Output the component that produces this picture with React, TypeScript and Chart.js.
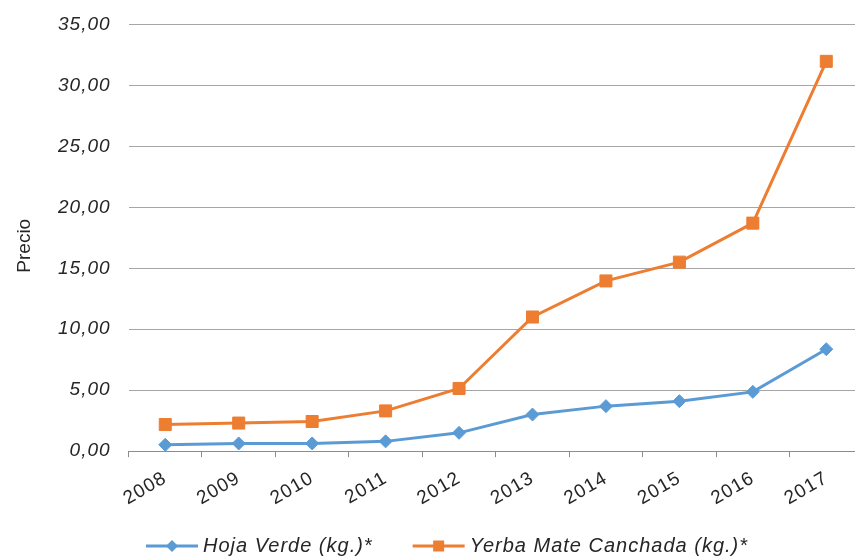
import React, { useEffect, useRef } from 'react';
import { Chart, registerables } from 'chart.js';

Chart.register(...registerables);

const years = ['2008', '2009', '2010', '2011', '2012', '2013', '2014', '2015', '2016', '2017'];
const hojaVerde = [0.52, 0.63, 0.63, 0.8, 1.5, 3.0, 3.69, 4.1, 4.86, 8.36];
const yerbaMate = [2.18, 2.3, 2.43, 3.3, 5.14, 11.0, 13.96, 15.5, 18.7, 31.97];
const seriesNames = ['Hoja Verde (kg.)*', 'Yerba Mate Canchada (kg.)*'];
const yAxisTitle = 'Precio';

const BLUE = '#5B9BD5';
const ORANGE = '#ED7D31';
const TEXT = '#262626';
const FONT_FAMILY = '"Liberation Sans", Arial, Helvetica, sans-serif';

const spacingPlugin = {
  id: 'letterSpacing',
  beforeUpdate(chart: any) {
    (chart.ctx as any).letterSpacing = '1px';
  },
  beforeDraw(chart: any) {
    (chart.ctx as any).letterSpacing = '1px';
  },
};

const yTitlePlugin = {
  id: 'yTitle',
  afterDraw(chart: any) {
    const ctx = chart.ctx as CanvasRenderingContext2D;
    ctx.save();
    (ctx as any).letterSpacing = '0px';
    ctx.font = `19px ${FONT_FAMILY}`;
    ctx.fillStyle = TEXT;
    ctx.textAlign = 'center';
    ctx.textBaseline = 'middle';
    const cy = (chart.chartArea.top + chart.chartArea.bottom) / 2 + 8;
    ctx.translate(25, cy);
    ctx.rotate(-Math.PI / 2);
    ctx.fillText(yAxisTitle, 0, 0);
    ctx.restore();
  },
};

const legendPlugin = {
  id: 'lineLegend',
  afterDraw(chart: any) {
    const ctx = chart.ctx as CanvasRenderingContext2D;
    ctx.save();
    (ctx as any).letterSpacing = '1px';
    ctx.font = `italic 20px ${FONT_FAMILY}`;
    const lineW = 52;
    const gapText = 5;
    const gapItems = 40;
    const items = chart.data.datasets.map((ds: any) => ({
      ds,
      w: lineW + gapText + ctx.measureText(ds.label).width,
    }));
    const total = items.reduce((s: number, it: any) => s + it.w, 0) + gapItems * (items.length - 1);
    let x = 447 - total / 2;
    const y = chart.height - 11;
    for (const it of items) {
      const color = it.ds.borderColor;
      ctx.strokeStyle = color;
      ctx.lineWidth = 3;
      ctx.beginPath();
      ctx.moveTo(x, y);
      ctx.lineTo(x + lineW, y);
      ctx.stroke();
      const cx = x + lineW / 2;
      ctx.fillStyle = color;
      ctx.beginPath();
      if (it.ds.pointStyle === 'rectRot') {
        const r = 6;
        ctx.moveTo(cx - r, y);
        ctx.lineTo(cx, y - r);
        ctx.lineTo(cx + r, y);
        ctx.lineTo(cx, y + r);
        ctx.closePath();
      } else {
        const h = 5.5;
        ctx.rect(cx - h, y - h, 2 * h, 2 * h);
      }
      ctx.fill();
      ctx.fillStyle = TEXT;
      ctx.textAlign = 'left';
      ctx.textBaseline = 'middle';
      ctx.fillText(it.ds.label, x + lineW + gapText, y);
      x += it.w + gapItems;
    }
    ctx.restore();
  },
};

export default function App() {
  const canvasRef = useRef<HTMLCanvasElement | null>(null);

  useEffect(() => {
    document.body.style.margin = '0';
    const canvas = canvasRef.current;
    if (!canvas) return;
    const chart = new Chart(canvas, {
      type: 'line',
      data: {
        labels: years,
        datasets: [
          {
            label: seriesNames[0],
            data: hojaVerde,
            borderColor: BLUE,
            backgroundColor: BLUE,
            borderWidth: 3,
            pointStyle: 'rectRot',
            pointRadius: 6.5,
            pointBorderWidth: 1,
            tension: 0,
          },
          {
            label: seriesNames[1],
            data: yerbaMate,
            borderColor: ORANGE,
            backgroundColor: ORANGE,
            borderWidth: 3,
            pointStyle: 'rect',
            pointRadius: 8.5,
            pointBorderWidth: 1,
            tension: 0,
          },
        ],
      },
      options: {
        responsive: false,
        animation: false,
        devicePixelRatio: 1,
        layout: { padding: { top: 8, left: 40, right: 29, bottom: 37 } },
        plugins: {
          legend: { display: false },
          tooltip: { enabled: false },
        },
        scales: {
          x: {
            offset: true,
            grid: {
              offset: true,
              drawOnChartArea: false,
              drawTicks: true,
              tickLength: 6,
              color: '#8C8C8C',
            },
            border: { display: true, color: '#8C8C8C', width: 1 },
            ticks: {
              color: TEXT,
              font: { family: FONT_FAMILY, size: 19 },
              maxRotation: 30,
              minRotation: 30,
              padding: 10,
            },
          },
          y: {
            min: 0,
            max: 35,
            ticks: {
              stepSize: 5,
              color: TEXT,
              padding: 18,
              font: { family: FONT_FAMILY, size: 19, style: 'italic' },
              callback: (v: any) => Number(v).toFixed(2).replace('.', ','),
            },
            grid: { color: '#A6A6A6', lineWidth: 1, drawTicks: false },
            border: { display: false },
          },
        },
      },
      plugins: [spacingPlugin, yTitlePlugin, legendPlugin],
    });
    return () => chart.destroy();
  }, []);

  return (
    <div style={{ width: 855, height: 557, overflow: 'hidden', position: 'relative', background: '#fff' }}>
      <canvas
        ref={canvasRef}
        width={892}
        height={562}
        style={{ display: 'block', position: 'absolute', left: 0, top: -5 }}
      />
    </div>
  );
}
